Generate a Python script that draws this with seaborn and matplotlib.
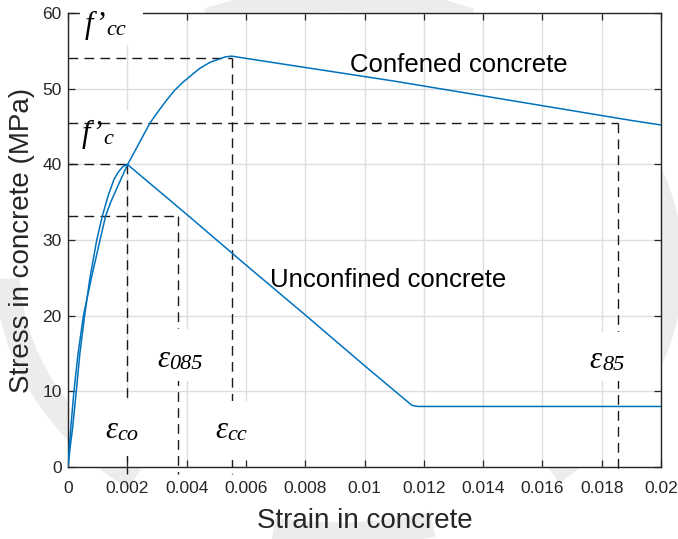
import matplotlib
matplotlib.use("Agg")
import matplotlib.pyplot as plt
from matplotlib.patches import Arc, Rectangle
import pandas as pd
import seaborn as sns

# ---- stress-strain curves (strain [-], stress [MPa]) ----
unconf_strain = [0, 0.00007, 0.00015, 0.00028, 0.0004, 0.00056, 0.00074, 0.00097,
                 0.00116, 0.00135, 0.00155, 0.0017, 0.00185, 0.002,
                 0.004, 0.006, 0.008, 0.010, 0.0114, 0.0116, 0.0118, 0.014, 0.017, 0.020]
unconf_stress = [0, 2.5, 5.0, 10.0, 15.0, 20.0, 25.0, 30.0,
                 33.2, 35.8, 38.0, 39.0, 39.7, 40.0,
                 33.4, 26.7, 20.1, 13.4, 8.8, 8.15, 8.0, 8.0, 8.0, 8.0]

conf_strain = [0, 0.00004, 0.00009, 0.0002, 0.00034, 0.00052, 0.00079, 0.00108,
               0.00127, 0.00144, 0.00178, 0.002, 0.0024, 0.00277, 0.0031, 0.00333,
               0.0036, 0.00389, 0.0042, 0.00445, 0.0048, 0.00502, 0.0053, 0.00552,
               0.007, 0.009, 0.011, 0.013, 0.015, 0.017, 0.019, 0.020]
conf_stress = [0, 2.5, 5.0, 10.0, 15.0, 20.0, 25.0, 30.0,
               33.2, 35.0, 38.0, 39.9, 42.8, 45.5, 47.3, 48.5,
               49.8, 50.9, 51.9, 52.7, 53.5, 53.8, 54.2, 54.3,
               53.4, 52.2, 51.0, 49.7, 48.4, 47.1, 45.8, 45.2]

# characteristic points marked with dashed guides
eps_co, f_co = 0.002, 40.0
eps_085, f_085 = 0.0037, 33.2
eps_cc, f_cc = 0.00553, 54.0
eps_85, f_85 = 0.01854, 45.5

x_ticks = [0, 0.002, 0.004, 0.006, 0.008, 0.010, 0.012, 0.014, 0.016, 0.018, 0.020]
x_tick_labels = ["0", "0.002", "0.004", "0.006", "0.008", "0.01",
                 "0.012", "0.014", "0.016", "0.018", "0.02"]
y_ticks = [0, 10, 20, 30, 40, 50, 60]
y_tick_labels = ["0", "10", "20", "30", "40", "50", "60"]

sns.set_theme(style="whitegrid")
plt.rcParams["font.family"] = ["Liberation Sans", "DejaVu Sans"]

ink = "#262626"
blue = "#0072BD"
serif_it = dict(fontfamily="Liberation Serif", fontstyle="italic", color="black")

fig = plt.figure(figsize=(6.78, 5.39), dpi=100, facecolor="white")

# faint circular logo behind the plot
bg = fig.add_axes([0, 0, 1, 1], zorder=0)
bg.set_xlim(0, 678)
bg.set_ylim(0, 539)
bg.axis("off")
ring = dict(xy=(339, 272), width=664, height=536, lw=18, color="#ececec")
for t1, t2 in [(62, 118), (182, 226), (256, 290), (316, 360), (0, 44)]:
    bg.add_patch(Arc(theta1=t1, theta2=t2, **ring))

ax = fig.add_axes([68 / 678, 72 / 539, 593 / 678, 454 / 539], zorder=1)
ax.set_facecolor("white")

df_u = pd.DataFrame({"strain": unconf_strain, "stress": unconf_stress})
df_c = pd.DataFrame({"strain": conf_strain, "stress": conf_stress})
sns.lineplot(data=df_u, x="strain", y="stress", ax=ax, color=blue, lw=1.1,
             estimator=None, sort=False, zorder=5)
sns.lineplot(data=df_c, x="strain", y="stress", ax=ax, color=blue, lw=1.1,
             estimator=None, sort=False, zorder=5)

# dashed guide lines (vertical ones run slightly below the axis)
dash = dict(color="#1a1a1a", lw=1.0, dashes=(7, 4.5), zorder=3.5, clip_on=False)
y_low = -0.9
for eps, f in [(eps_cc, f_cc), (eps_85, f_85), (eps_co, f_co), (eps_085, f_085)]:
    ax.plot([0, eps], [f, f], **dash)
    ax.plot([eps, eps], [f, y_low], **dash)

# white patches behind the stress labels (axes fraction)
for x0, y0, w, h in [(0.02, 0.9295, 0.1065, 0.13), (0.0034, 0.6696, 0.11, 0.1164)]:
    ax.add_patch(Rectangle((x0, y0), w, h, transform=ax.transAxes, facecolor="white",
                           edgecolor="none", zorder=3, clip_on=False))

# white patches behind the strain labels (data units)
for x0, y0, w, h in [(0.00105, 1.4, 0.00135, 7.4), (0.0029, 11.4, 0.0016, 6.8),
                     (0.0047, 0.9, 0.0016, 7.8), (0.0174, 11.4, 0.0014, 6.5)]:
    ax.add_patch(Rectangle((x0, y0), w, h, facecolor="white", edgecolor="none",
                           zorder=3.8))


def symbol(x, y, main, sub, main_size, sub_size, z, drop=1.2):
    """Large italic symbol followed by a smaller italic index near the baseline."""
    t = ax.text(x, y, main, fontsize=main_size, va="baseline", zorder=z, **serif_it)
    # the text box bottom sits one font descent below the baseline
    descent = 0.216 * main_size
    ax.annotate(sub, xy=(1, 0), xycoords=t, xytext=(0.2, descent - drop),
                textcoords="offset points", fontsize=sub_size, va="baseline",
                ha="left", zorder=z, **serif_it)


symbol(0.00057, 57.4, "f\u2019", "cc", 22, 16, 3.2, drop=1.5)
symbol(0.00047, 42.95, "f\u2019", "c", 22, 16, 3.2, drop=1.5)

symbol(0.00125, 3.83, "\u03b5", "co", 22, 16, 4)
symbol(0.0030, 13.2, "\u03b5", "085", 22, 16, 4)
symbol(0.00496, 3.83, "\u03b5", "cc", 22, 16, 4)
symbol(0.0176, 13.1, "\u03b5", "85", 22, 16, 4)

ax.text(0.00951, 52.2, "Confened concrete", fontsize=18.5, color="black",
        va="baseline", zorder=4)
ax.text(0.00681, 23.8, "Unconfined concrete", fontsize=18.5, color="black",
        va="baseline", zorder=4)

ax.set_xlim(0, 0.02)
ax.set_ylim(0, 60)
ax.set_xticks(x_ticks, x_tick_labels)
ax.set_yticks(y_ticks, y_tick_labels)
ax.tick_params(direction="in", length=5, width=0.9, top=True, right=True,
               bottom=True, left=True, colors=ink, labelsize=12.5)
ax.tick_params(axis="x", pad=10)
ax.tick_params(axis="y", pad=4.5)
ax.grid(True, color="#dedede", lw=1.0)
ax.set_axisbelow(True)
for s in ax.spines.values():
    s.set_visible(True)
    s.set_color(ink)
    s.set_linewidth(1.0)

ax.set_xlabel("Strain in concrete", fontsize=20, color=ink, labelpad=9)
ax.set_ylabel("Stress in concrete (MPa)", fontsize=20, color=ink, labelpad=5)

fig.savefig("out.png", dpi=100, facecolor="white")
